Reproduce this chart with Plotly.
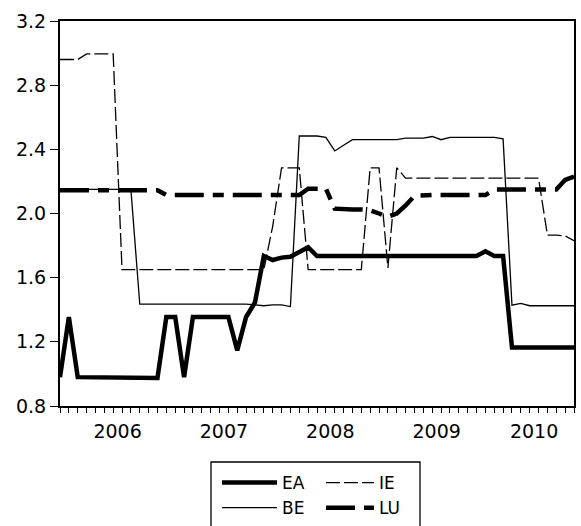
import plotly.graph_objects as go

# Monthly observations, Dec 2005 .. Oct 2010
months = []
for y in range(2005, 2011):
    for m in range(1, 13):
        if (y == 2005 and m < 12) or (y == 2010 and m > 10):
            continue
        months.append(f"{y}-{m:02d}")

EA = [0.98, 1.355, 0.98, 0.98, 0.98, 0.98, 0.98, 0.98, 0.977, 0.975,
      0.975, 0.975, 1.355, 1.355, 0.98, 1.355, 1.355, 1.355, 1.355, 1.355,
      1.147, 1.355, 1.445, 1.735, 1.71, 1.725, 1.73, 1.76, 1.79, 1.735,
      1.735, 1.735, 1.735, 1.735, 1.735, 1.735, 1.735, 1.735, 1.735, 1.735,
      1.735, 1.735, 1.735, 1.735, 1.735, 1.735, 1.735, 1.735, 1.765, 1.735,
      1.735, 1.165, 1.165, 1.165, 1.165, 1.165, 1.165, 1.165, 1.165]

IE = [2.96, 2.96, 2.96, 2.995, 2.995, 2.995, 2.995, 1.65, 1.65, 1.65,
      1.65, 1.65, 1.65, 1.65, 1.65, 1.65, 1.65, 1.65, 1.65, 1.65,
      1.65, 1.65, 1.65, 1.65, 1.92, 2.285, 2.285, 2.285, 1.65, 1.65,
      1.65, 1.65, 1.65, 1.65, 1.65, 2.285, 2.285, 1.66, 2.285, 2.22,
      2.22, 2.22, 2.22, 2.22, 2.22, 2.22, 2.22, 2.22, 2.22, 2.22,
      2.22, 2.22, 2.22, 2.22, 2.22, 1.865, 1.865, 1.86, 1.83]

BE = [2.15, 2.15, 2.15, 2.15, 2.15, 2.15, 2.15, 2.15, 2.15, 1.435,
      1.435, 1.435, 1.435, 1.435, 1.435, 1.435, 1.435, 1.435, 1.435, 1.435,
      1.435, 1.435, 1.43, 1.425, 1.43, 1.43, 1.42, 2.483, 2.483, 2.483,
      2.475, 2.39, 2.425, 2.46, 2.46, 2.46, 2.46, 2.46, 2.46, 2.47,
      2.47, 2.47, 2.48, 2.46, 2.475, 2.475, 2.475, 2.475, 2.475, 2.475,
      2.465, 1.428, 1.44, 1.425, 1.425, 1.425, 1.425, 1.425, 1.425]

LU = [2.145, 2.145, 2.145, 2.145, 2.145, 2.145, 2.145, 2.145, 2.145, 2.145,
      2.145, 2.145, 2.115, 2.115, 2.115, 2.115, 2.115, 2.115, 2.115, 2.115,
      2.115, 2.115, 2.115, 2.115, 2.115, 2.115, 2.115, 2.115, 2.155, 2.155,
      2.155, 2.03, 2.025, 2.025, 2.025, 2.02, 2.0, 1.98, 2.0, 2.05,
      2.11, 2.115, 2.115, 2.115, 2.115, 2.115, 2.115, 2.115, 2.115, 2.15,
      2.15, 2.15, 2.15, 2.15, 2.15, 2.15, 2.15, 2.21, 2.23]

y_ticks = [0.8, 1.2, 1.6, 2.0, 2.4, 2.8, 3.2]

x = list(range(len(months)))
years = sorted(set(m[:4] for m in months))
year_labels = [yy for yy in years if sum(1 for m in months if m.startswith(yy)) > 1]
year_centers = []
for yy in year_labels:
    idx = [i for i, m in enumerate(months) if m.startswith(yy)]
    year_centers.append((idx[0] + idx[-1]) / 2)
jan_pos = [i for i, m in enumerate(months) if m.endswith("-01")]

FONT = "DejaVu Sans, Verdana, sans-serif"
W, H = 581, 526

fig = go.Figure()
fig.add_trace(go.Scatter(x=x, y=EA, name="EA", mode="lines",
                         line=dict(color="black", width=4.5), legend="legend"))
fig.add_trace(go.Scatter(x=x, y=BE, name="BE", mode="lines",
                         line=dict(color="black", width=1.3), legend="legend"))
fig.add_trace(go.Scatter(x=x, y=IE, name="IE", mode="lines",
                         line=dict(color="black", width=1.3, dash="14px,4px"),
                         legend="legend2"))
fig.add_trace(go.Scatter(x=x, y=LU, name="LU", mode="lines",
                         line=dict(color="black", width=4.5, dash="29px,9px,11px,9px"),
                         legend="legend2"))

xr = [0, len(months) - 1]
fig.update_layout(
    width=W, height=H,
    margin=dict(l=60, r=7, t=21, b=120, autoexpand=False),
    paper_bgcolor="white", plot_bgcolor="white",
    font=dict(family=FONT, size=19, color="black"),
    showlegend=True,
    xaxis=dict(range=xr, showgrid=False, zeroline=False,
               showline=True, linecolor="black", linewidth=2, mirror=True,
               tickmode="array", tickvals=year_centers, ticktext=year_labels,
               ticks="", ticklabelstandoff=7,
               minor=dict(tickmode="array", tickvals=x, ticks="outside",
                          ticklen=5, tickwidth=1, tickcolor="black", showgrid=False)),
    xaxis2=dict(range=xr, overlaying="x", anchor="y", side="bottom",
                showgrid=False, zeroline=False, showline=False,
                tickmode="array", tickvals=jan_pos, ticks="outside",
                ticklen=9, tickwidth=1, tickcolor="black", showticklabels=False),
    yaxis=dict(range=[0.8, 3.2], showgrid=False, zeroline=False,
               showline=True, linecolor="black", linewidth=2, mirror=True,
               tickmode="array", tickvals=y_ticks, tickformat=".1f",
               ticks="outside", ticklen=8, tickwidth=1, tickcolor="black"),
    legend=dict(xref="container", yref="container",
                x=217 / W, y=1 - 465 / H, xanchor="left", yanchor="top",
                orientation="v", bgcolor="rgba(0,0,0,0)", borderwidth=0,
                font=dict(family=FONT, size=17, color="black"),
                itemwidth=55, tracegroupgap=0),
    legend2=dict(xref="container", yref="container",
                 x=321 / W, y=1 - 465 / H, xanchor="left", yanchor="top",
                 orientation="v", bgcolor="rgba(0,0,0,0)", borderwidth=0,
                 font=dict(family=FONT, size=17, color="black"),
                 itemwidth=48, tracegroupgap=0),
    shapes=[dict(type="rect", xref="paper", yref="paper",
                 x0=(211 - 60) / 514, x1=(420 - 60) / 514,
                 y0=(406 - 600) / 385, y1=(406 - 462) / 385,
                 line=dict(color="black", width=1.3), fillcolor="rgba(0,0,0,0)")],
)

fig.write_html("out.html")
